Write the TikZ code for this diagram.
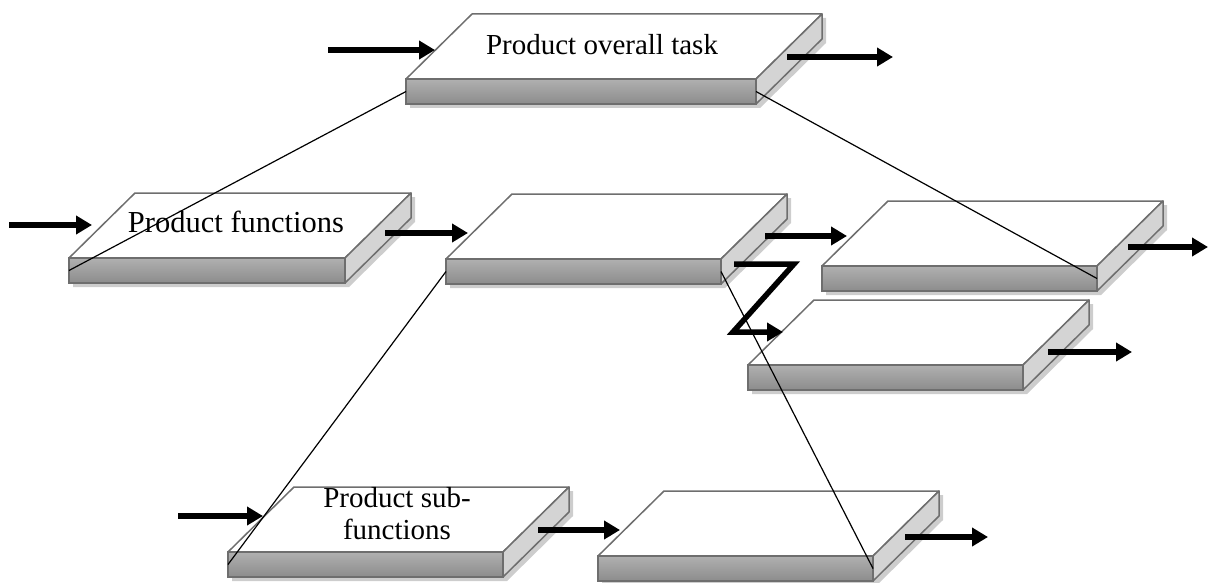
\documentclass[tikz,border=0pt]{standalone}
\usepackage{fontspec}
\setmainfont{Liberation Serif}
\usetikzlibrary{arrows.meta}
\definecolor{edgec}{RGB}{110,110,110}
\definecolor{fronttop}{RGB}{176,176,176}
\definecolor{frontbot}{RGB}{140,140,140}
\definecolor{sidec}{RGB}{212,212,212}
\definecolor{shadowc}{RGB}{205,205,205}
\tikzset{
  slabshadow/.style={fill=shadowc},
  topface/.style={fill=white, draw=edgec, line width=1.5pt, line join=round},
  sideface/.style={fill=sidec, draw=edgec, line width=1.5pt, line join=round},
  frontface/.style={rectangle, draw=edgec, line width=1.5pt, top color=fronttop, bottom color=frontbot, minimum height=25pt, inner sep=0pt, outer sep=0pt, anchor=north west},
  fat/.style={line width=5.5pt, -{Triangle[length=16pt,width=18pt]}, line join=miter},
  link/.style={line width=1.2pt, black},
  lbl/.style={font=\fontsize{29}{32}\selectfont, inner sep=0pt, align=center}
}
\newcommand\slab[4]{%
  \pgfmathsetmacro\slXa{#2}\pgfmathsetmacro\slYa{#3}%
  \pgfmathsetmacro\slXb{#2+#4}\pgfmathsetmacro\slYb{#3+25}%
  \pgfmathsetmacro\slXc{#2+66}\pgfmathsetmacro\slXd{#2+#4+66}%
  \pgfmathsetmacro\slYc{#3-65}\pgfmathsetmacro\slYd{#3-40}%
  \fill[slabshadow, shift={(4,4)}] (\slXa,\slYa) -- (\slXc,\slYc) -- (\slXd,\slYc) -- (\slXd,\slYd) -- (\slXb,\slYb) -- (\slXa,\slYb) -- cycle;
  \filldraw[topface] (\slXa,\slYa) -- (\slXc,\slYc) -- (\slXd,\slYc) -- (\slXb,\slYa) -- cycle;
  \filldraw[sideface] (\slXb,\slYa) -- (\slXd,\slYc) -- (\slXd,\slYd) -- (\slXb,\slYb) -- cycle;
  \node[frontface, minimum width=#4pt] (#1) at (\slXa,\slYa) {};
}
\begin{document}
\begin{tikzpicture}[x=1pt,y=-1pt]
\useasboundingbox (0,0) rectangle (1210,583);
% slabs
\slab{b1}{406}{79}{350}
\slab{b2}{69}{258}{276}
\slab{b3}{446}{259}{275}
\slab{b4}{822}{266}{275}
\slab{b5}{748}{365}{275}
\slab{b6}{228}{552}{275}
\slab{b7}{598}{556}{275}
% labels
\node[lbl] (t1) at (602,45) {Product overall task};
\node[lbl, font=\fontsize{30.5}{33}\selectfont] (t2) at (236,222) {Product functions};
\node[lbl] (t6) at (397,514) {Product sub-\\functions};
% arrow end points
\coordinate (a1s) at (328,50);   \coordinate (a1e) at (435,50);
\coordinate (a2s) at (787,57);   \coordinate (a2e) at (893,57);
\coordinate (a3s) at (9,225);    \coordinate (a3e) at (92,225);
\coordinate (a4s) at (385,233);  \coordinate (a4e) at (468,233);
\coordinate (a5s) at (765,236);  \coordinate (a5e) at (847,236);
\coordinate (zA) at (734,264);   \coordinate (zB) at (794,264);
\coordinate (zC) at (733,332);   \coordinate (zD) at (783,332);
\coordinate (a7s) at (1128,247); \coordinate (a7e) at (1208,247);
\coordinate (a8s) at (1048,352); \coordinate (a8e) at (1132,352);
\coordinate (a9s) at (178,516);  \coordinate (a9e) at (263,516);
\coordinate (a10s) at (538,530); \coordinate (a10e) at (620,530);
\coordinate (a11s) at (905,537); \coordinate (a11e) at (988,537);
% thin links
\draw[link] (b1.west) -- (b2.west);
\draw[link] (b1.east) -- (b4.east);
\draw[link] (b3.west) -- (b6.west);
\draw[link] (b3.east) -- (b7.east);
% thick arrows
\draw[fat] (a1s) -- (a1e);
\draw[fat] (a2s) -- (a2e);
\draw[fat] (a3s) -- (a3e);
\draw[fat] (a4s) -- (a4e);
\draw[fat] (a5s) -- (a5e);
\draw[fat] (zA) -- (zB) -- (zC) -- (zD);
\draw[fat] (a7s) -- (a7e);
\draw[fat] (a8s) -- (a8e);
\draw[fat] (a9s) -- (a9e);
\draw[fat] (a10s) -- (a10e);
\draw[fat] (a11s) -- (a11e);
\end{tikzpicture}
\end{document}
